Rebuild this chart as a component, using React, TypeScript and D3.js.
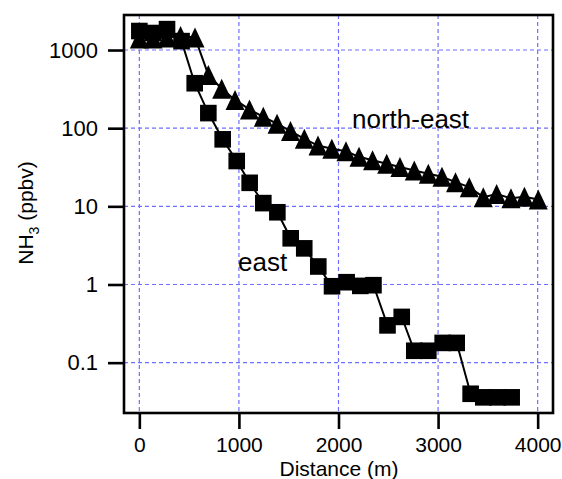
import * as d3 from "d3";
import { useEffect, useRef } from "react";

// NH3 mixing ratio vs distance from source, two transects
const eastDist = [0, 138, 278, 424, 556, 693, 837, 978, 1108, 1245, 1386, 1520, 1656, 1797, 1935, 2082, 2219, 2351, 2492, 2635, 2761, 2902, 3046, 3187, 3327, 3454, 3596, 3739];
const eastNH3 = [1750, 1650, 1850, 1300, 376, 156, 72, 38, 20, 11, 8.4, 3.9, 2.9, 1.7, 0.95, 1.07, 0.96, 0.98, 0.3, 0.385, 0.142, 0.142, 0.179, 0.179, 0.04, 0.036, 0.036, 0.036];

const neDist = [0, 138, 278, 414, 559, 693, 827, 961, 1106, 1245, 1383, 1518, 1657, 1794, 1933, 2075, 2206, 2342, 2484, 2617, 2761, 2902, 3039, 3175, 3313, 3454, 3588, 3732, 3867, 4006];
const neNH3 = [1400, 1400, 1450, 1510, 1450, 480, 320, 230, 174, 140, 114, 92, 73, 60, 54.5, 50.6, 43, 38.8, 35.1, 31.8, 28.8, 26.1, 23.9, 20.4, 17.6, 13.1, 14.4, 12.7, 13.3, 12.2];

const xTicks = [0, 1000, 2000, 3000, 4000];
const yTicks = [0.1, 1, 10, 100, 1000];

const FONT = "'Liberation Sans', Arial, sans-serif";

export default function App() {
    const ref = useRef<SVGSVGElement>(null);

    useEffect(() => {
        const svg = d3.select(ref.current);
        svg.selectAll("*").remove();

        const width = 562;
        const height = 479;
        const margin = { top: 15, right: 9, bottom: 66, left: 124 };

        const x = d3.scaleLinear()
            .domain([-154, 4154])
            .range([margin.left, width - margin.right]);

        const y = d3.scaleLog()
            .domain([2806, 0.0227])
            .range([margin.top, height - margin.bottom]);

        const x0 = margin.left, x1 = width - margin.right;
        const y0 = margin.top, y1 = height - margin.bottom;

        // grid
        const grid = svg.append("g")
            .attr("stroke", "#6f6fff")
            .attr("stroke-width", 1.2)
            .attr("stroke-dasharray", "4,3");
        grid.selectAll("line.gx")
            .data(xTicks)
            .join("line")
            .attr("x1", d => x(d)).attr("x2", d => x(d))
            .attr("y1", y0).attr("y2", y1);
        grid.selectAll("line.gy")
            .data(yTicks)
            .join("line")
            .attr("class", "gy")
            .attr("y1", d => y(d)).attr("y2", d => y(d))
            .attr("x1", x0).attr("x2", x1);

        // axes
        const xAxis = svg.append("g")
            .attr("transform", `translate(0,${y1})`)
            .call(d3.axisBottom(x).tickValues(xTicks).tickSize(16).tickSizeOuter(0).tickPadding(8).tickFormat(d => String(d)));
        const yAxis = svg.append("g")
            .attr("transform", `translate(${x0},0)`)
            .call(d3.axisLeft(y).tickValues(yTicks).tickSize(16).tickSizeOuter(0).tickPadding(10).tickFormat(d => String(d)));

        [xAxis, yAxis].forEach((g, i) => {
            g.select(".domain").remove();
            g.selectAll("line").attr("stroke", "#000").attr("stroke-width", 2.6);
            g.selectAll("text")
                .attr("fill", "#000")
                .style("font-family", FONT)
                .style("font-size", i === 0 ? "21px" : "22px");
        });

        const drawSeries = (dist: number[], vals: number[], shape: string) => {
            const pts = dist.map((d, i) => [x(d), y(vals[i])] as [number, number]);
            svg.append("path")
                .attr("d", d3.line()(pts))
                .attr("fill", "none")
                .attr("stroke", "#000")
                .attr("stroke-width", 2);
            const marks = svg.append("g").attr("fill", "#000");
            if (shape === "square") {
                marks.selectAll("rect")
                    .data(pts)
                    .join("rect")
                    .attr("x", d => d[0] - 8.3)
                    .attr("y", d => d[1] - 8.3)
                    .attr("width", 16.6)
                    .attr("height", 16.6);
            } else {
                marks.selectAll("path")
                    .data(pts)
                    .join("path")
                    .attr("d", d => `M${d[0]},${d[1] - 10}L${d[0] + 9.5},${d[1] + 10}L${d[0] - 9.5},${d[1] + 10}Z`);
            }
        };

        drawSeries(neDist, neNH3, "triangle");
        drawSeries(eastDist, eastNH3, "square");

        // frame
        svg.append("rect")
            .attr("x", x0).attr("y", y0)
            .attr("width", x1 - x0).attr("height", y1 - y0)
            .attr("fill", "none")
            .attr("stroke", "#000")
            .attr("stroke-width", 2.6);

        // series labels
        svg.append("text")
            .attr("x", 352).attr("y", 128)
            .style("font-family", FONT).style("font-size", "26px")
            .text("north-east");
        svg.append("text")
            .attr("x", 238).attr("y", 271)
            .style("font-family", FONT).style("font-size", "26px")
            .text("east");

        // axis titles
        svg.append("text")
            .attr("x", 339).attr("y", 476)
            .attr("text-anchor", "middle")
            .style("font-family", FONT).style("font-size", "21px")
            .text("Distance (m)");

        const yl = svg.append("text")
            .attr("transform", `translate(33,213) rotate(-90)`)
            .attr("text-anchor", "middle")
            .style("font-family", FONT).style("font-size", "21px");
        yl.append("tspan").text("NH");
        yl.append("tspan").attr("dy", 6).style("font-size", "14px").text("3");
        yl.append("tspan").attr("dy", -6).text(" (ppbv)");
    }, []);

    return (
        <div style={{ position: "absolute", left: 0, top: 0 }}>
            <svg ref={ref} width={562} height={479} style={{ display: "block", background: "#fff" }}></svg>
        </div>
    );
}
